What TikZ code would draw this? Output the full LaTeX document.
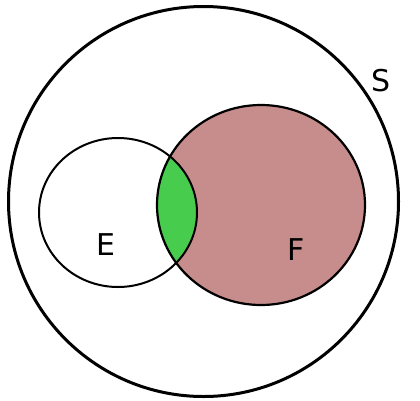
\documentclass[tikz,border=0pt]{standalone}
\usepackage{fontspec}
\setmainfont{DejaVu Sans}
\definecolor{fpink}{HTML}{C78D8D}
\definecolor{egreen}{HTML}{48CC4D}
\begin{document}
\begin{tikzpicture}[x=1pt,y=-1pt,
  lbl/.style={font=\fontsize{30}{30}\selectfont, inner sep=0pt}]
\useasboundingbox (0,0) rectangle (420,400);
\fill[white] (0,0) rectangle (420,400);
% F fill
\fill[fpink] (261,205) ellipse [x radius=104, y radius=100];
% intersection
\begin{scope}
  \clip (118,212.5) ellipse [x radius=79, y radius=74.5];
  \fill[egreen] (261,205) ellipse [x radius=104, y radius=100];
\end{scope}
% outlines
\draw[line width=3] (203.5,201.5) circle [radius=195];
\draw[line width=2] (118,212.5) ellipse [x radius=79, y radius=74.5];
\draw[line width=2.2] (261,205) ellipse [x radius=104, y radius=100];
% labels
\node[lbl] (S) at (381,81) {S};
\node[lbl] (E) at (106,245) {E};
\node[lbl] (F) at (296,250) {F};
\end{tikzpicture}
\end{document}
